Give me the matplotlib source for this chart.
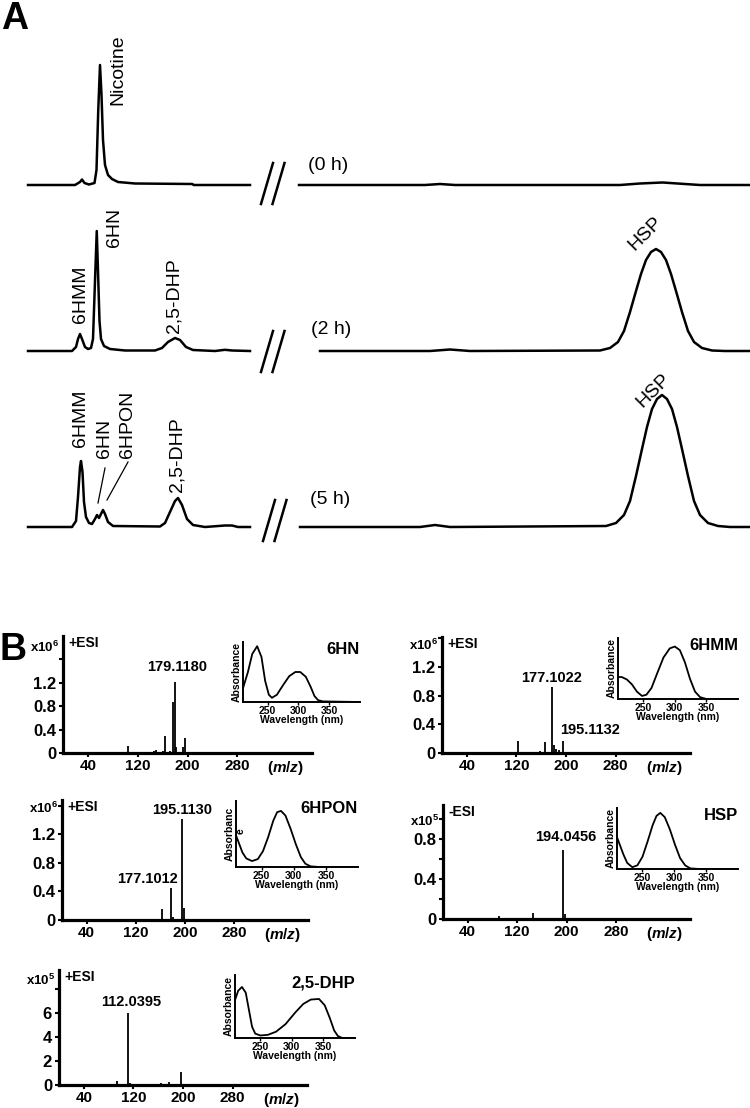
import numpy as np
import matplotlib
matplotlib.use('Agg')
import matplotlib.pyplot as plt
from matplotlib.lines import Line2D

plt.rcParams['font.family'] = ['Liberation Sans', 'DejaVu Sans']
plt.rcParams['mathtext.fontset'] = 'custom'
plt.rcParams['mathtext.rm'] = 'Liberation Sans:bold'
plt.rcParams['mathtext.it'] = 'Liberation Sans:italic:bold'
plt.rcParams['mathtext.bf'] = 'Liberation Sans:bold'

# ---- panel A: HPLC traces (retention time in min, signal), left / right of the break
t_0h_left = [1.12, 3.0, 3.2, 3.28, 3.38, 3.56, 3.78, 3.86, 3.93, 4.0, 4.06, 4.12, 4.2, 4.32, 4.48, 4.72, 5.4, 7.7, 7.74, 10.0]
s_0h_left = [0, 0, 3, 5.5, 2, 0.5, 2, 15, 75, 120, 90, 45, 20, 10, 6, 3, 1.5, 1, 0, 0]
t_0h_right = [11.96, 17.0, 17.6, 18.2, 24.8, 25.6, 26.5, 27.4, 28.0, 30.0]
s_0h_right = [0, 0, 1, 0, 0, 1.5, 2.5, 1, 0, 0]

t_2h_left = [1.12, 2.88, 3.04, 3.12, 3.2, 3.28, 3.4, 3.52, 3.64, 3.72, 3.8, 3.87, 3.92, 3.98, 4.04,
             4.16, 4.4, 5.0, 6.2, 6.48, 6.72, 7.0, 7.2, 7.44, 7.72, 8.6, 9.0, 9.28, 10.0]
s_2h_left = [0, 0, 4, 12, 17, 12, 4, 2, 3, 12, 70, 120, 80, 30, 12,
             5, 2, 0.5, 0.5, 3, 9, 13, 11, 4, 1, 0, 1.2, 0.5, 0]
t_2h_right = [12.8, 17.2, 18.0, 18.8, 24.0, 24.4, 24.72, 24.96, 25.2, 25.44, 25.64, 25.84, 26.04, 26.24,
              26.44, 26.64, 26.84, 27.04, 27.28, 27.52, 27.76, 28.08, 28.48, 29.0, 30.0]
s_2h_right = [0, 0, 1.5, 0, 0.5, 3, 9, 20, 39, 60, 77, 91, 99, 102,
              99, 91, 77, 60, 39, 20, 9, 3, 0.5, 0, 0]

t_5h_left = [1.12, 2.88, 3.04, 3.12, 3.2, 3.24, 3.3, 3.36, 3.44, 3.56, 3.68, 3.8, 3.88, 3.96, 4.04, 4.12,
             4.2, 4.32, 4.52, 6.4, 6.6, 6.8, 7.0, 7.12, 7.28, 7.48, 7.72, 8.2, 9.0, 9.28, 9.52, 10.0]
s_5h_left = [0, 0, 6, 30, 60, 66, 55, 25, 10, 4, 3, 8, 12, 9, 13, 17,
             13, 5, 1, 0.5, 4, 15, 26, 29, 22, 8, 2, 0, 1.5, 1.5, 0, 0]
t_5h_right = [12.0, 16.8, 17.4, 18.0, 24.24, 24.64, 24.96, 25.2, 25.44, 25.68, 25.88, 26.08, 26.28, 26.48,
              26.68, 26.88, 27.08, 27.28, 27.52, 27.76, 28.0, 28.32, 28.72, 29.2, 30.0]
s_5h_right = [0, 0, 2, 0, 1, 4, 12, 26, 51, 78, 100, 118, 128, 132,
              128, 118, 100, 78, 51, 26, 12, 4, 1, 0, 0]

# ---- panel B: mass spectra (m/z, intensity)
hn_mz = [105, 130, 134, 146, 150, 160, 164, 172, 177, 179.118, 181, 192, 196]
hn_int = [0.12, 0.01, 0.01, 0.03, 0.05, 0.03, 0.29, 0.03, 0.87, 1.21, 0.1, 0.1, 0.26]
hmm_mz = [122, 142, 147, 158, 166, 177.102, 181, 184, 189, 195.113, 206, 219]
hmm_int = [0.17, 0.01, 0.01, 0.03, 0.15, 0.92, 0.11, 0.06, 0.04, 0.17, 0.02, 0.01]
hpon_mz = [163, 177.101, 180, 195.113, 198]
hpon_int = [0.15, 0.45, 0.04, 1.42, 0.17]
hsp_mz = [90, 107, 146, 194.046, 197, 300]
hsp_int = [0.03, 0.015, 0.06, 0.69, 0.05, 0.01]
dhp_mz = [94, 112.040, 114, 165, 177, 196]
dhp_int = [0.3, 6.0, 0.2, 0.2, 0.25, 1.05]

# ---- UV spectra (wavelength nm, relative absorbance)
hn_wl = [210, 218, 225, 233, 240, 246, 252, 257, 265, 275, 285, 295, 303, 312, 320, 326, 332, 340, 400]
hn_ab = [0.23, 0.5, 0.8, 0.93, 0.75, 0.35, 0.12, 0.07, 0.12, 0.28, 0.43, 0.5, 0.5, 0.42, 0.25, 0.1, 0.03, 0.01, 0.0]
hmm_wl = [210, 216, 224, 232, 240, 248, 255, 263, 272, 282, 292, 300, 308, 316, 324, 332, 340, 350, 400]
hmm_ab = [0.36, 0.36, 0.32, 0.24, 0.12, 0.05, 0.07, 0.18, 0.42, 0.68, 0.83, 0.86, 0.8, 0.6, 0.33, 0.12, 0.03, 0.0, 0.0]
hpon_wl = [210, 215, 220, 226, 235, 244, 252, 260, 268, 274, 280, 287, 295, 303, 311, 318, 326, 340, 400]
hpon_ab = [0.48, 0.35, 0.22, 0.13, 0.09, 0.12, 0.24, 0.45, 0.7, 0.83, 0.85, 0.78, 0.58, 0.35, 0.15, 0.05, 0.01, 0.0, 0.0]
hsp_wl = [210, 215, 220, 226, 234, 242, 250, 258, 266, 272, 278, 285, 293, 301, 309, 317, 325, 340, 400]
hsp_ab = [0.52, 0.38, 0.24, 0.1, 0.03, 0.06, 0.2, 0.45, 0.72, 0.87, 0.92, 0.85, 0.65, 0.4, 0.18, 0.06, 0.01, 0.0, 0.0]
dhp_wl = [210, 215, 221, 227, 232, 237, 242, 250, 262, 275, 290, 305, 318, 330, 343, 352, 360, 367, 373, 380, 400]
dhp_ab = [0.6, 0.75, 0.81, 0.72, 0.45, 0.18, 0.07, 0.04, 0.05, 0.1, 0.22, 0.4, 0.54, 0.61, 0.62, 0.52, 0.32, 0.12, 0.03, 0.0, 0.0]

W, H = 750, 1108
fig = plt.figure(figsize=(W / 100, H / 100), dpi=100)


def frame(l, t, r, b):
    return fig.add_axes([l / W, 1 - b / H, (r - l) / W, (b - t) / H])


# ================= panel A =================
ax = frame(0, 0, 750, 545)
ax.set_xlim(0, 30)
ax.set_ylim(0, 545)
ax.axis('off')

traces = [(t_0h_left, s_0h_left, t_0h_right, s_0h_right, 360),
          (t_2h_left, s_2h_left, t_2h_right, s_2h_right, 194),
          (t_5h_left, s_5h_left, t_5h_right, s_5h_right, 18)]
for tl, sl, tr, sr, base in traces:
    ax.plot(tl, np.array(sl) + base, color='black', lw=1.8, solid_joinstyle='round')
    ax.plot(tr, np.array(sr) + base, color='black', lw=1.8, solid_joinstyle='round')


def brk(x0, yb, yt):
    for dx in (0, 11.5):
        fig.add_artist(Line2D([(x0 + dx) / W, (x0 + dx + 12) / W], [1 - yb / H, 1 - yt / H],
                              color='black', lw=1.8))


brk(261, 204, 163)
brk(261, 372, 331)
brk(263, 541, 500)

lab = dict(fontsize=14, rotation=90, ha='center', va='bottom')
ax.text(4.72, 440, 'Nicotine', **lab)
ax.text(4.6, 298, '6HN', **lab)
ax.text(3.2, 222, '6HMM', **lab)
ax.text(6.96, 212, '2,5-DHP', **lab)
ax.text(3.24, 98, '6HMM', **lab)
ax.text(4.2, 87, '6HN', **lab)
ax.text(5.1, 87, '6HPON', **lab)
ax.text(7.08, 53, '2,5-DHP', **lab)
ax.plot([4.2, 3.92], [77, 42], color='black', lw=0.9)
ax.plot([5.12, 4.28], [83, 45], color='black', lw=0.9)
ax.text(25.8, 311, 'HSP', fontsize=14, rotation=45, ha='center', va='center', rotation_mode='anchor')
ax.text(26.12, 154, 'HSP', fontsize=14, rotation=45, ha='center', va='center', rotation_mode='anchor')
ax.text(13.12, 379, '(0 h)', fontsize=14, ha='center', va='center')
ax.text(13.24, 215, '(2 h)', fontsize=14, ha='center', va='center')
ax.text(13.2, 45, '(5 h)', fontsize=14, ha='center', va='center')

fig.text(1 / W, 1 - 1 / H, 'A', fontsize=27, fontweight='bold', ha='left', va='top')
fig.text(0 / W, 1 - 632 / H, 'B', fontsize=27, fontweight='bold', ha='left', va='top')


# ================= panel B =================
def ms_panel(box, mz, inten, ymax, yticks, ylabels, exp, mode, peaks, ibox, wl, ab, name,
             minor=None, exp_y=0.9, ylab='Absorbance'):
    a = frame(*box)
    a.vlines(mz, 0, inten, color='black', lw=1.3)
    a.set_xlim(0, 400)
    a.set_ylim(0, ymax)
    a.set_xticks([40, 120, 200, 280])
    a.set_xticklabels(['40', '120', '200', '280'], fontsize=11, fontweight='bold')
    a.set_yticks(yticks)
    a.set_yticklabels(ylabels, fontsize=12, fontweight='bold')
    if minor:
        a.set_yticks(minor, minor=True)
        a.tick_params(axis='y', which='minor', length=3, width=1.5)
    for s in ('top', 'right'):
        a.spines[s].set_visible(False)
    for s in ('left', 'bottom'):
        a.spines[s].set_linewidth(2.3)
    a.tick_params(length=3, width=1.5)
    a.tick_params(axis='x', pad=1.5)
    a.tick_params(axis='y', pad=2)
    a.annotate('x10$^{%d}$' % exp, xy=(0, exp_y), xycoords='axes fraction', xytext=(-3, 0),
               textcoords='offset points', ha='right', va='center', fontsize=9.5, fontweight='bold')
    a.annotate(mode, xy=(0, 1), xycoords='axes fraction', xytext=(4, 0),
               textcoords='offset points', ha='left', va='top', fontsize=10, fontweight='bold')
    a.annotate('($m/z$)', xy=(358, 0), xycoords=('data', 'axes fraction'), xytext=(0, -4.5),
               textcoords='offset points', ha='center', va='top', fontsize=11, fontweight='bold')
    for text, x, y, dx, dy, ha in peaks:
        a.annotate(text, xy=(x, y), xytext=(dx, dy), textcoords='offset points',
                   ha=ha, va='bottom', fontsize=10.5, fontweight='bold')

    b = frame(*ibox)
    b.plot(wl, ab, color='black', lw=1.3)
    b.set_xlim(210, 400)
    b.set_ylim(0, 1)
    b.set_yticks([])
    b.set_xticks([250, 300, 350])
    b.set_xticklabels(['250', '300', '350'], fontsize=7.5, fontweight='bold')
    b.tick_params(length=2, width=1, pad=1)
    for s in ('top', 'right'):
        b.spines[s].set_visible(False)
    for s in ('left', 'bottom'):
        b.spines[s].set_linewidth(1.4)
    b.set_xlabel('Wavelength (nm)', fontsize=7.5, fontweight='bold', labelpad=-1)
    b.set_ylabel(ylab, fontsize=7.5, fontweight='bold', labelpad=1)
    b.text(1.0, 1.0, name, transform=b.transAxes, ha='right', va='top', fontsize=12, fontweight='bold')
    return a, b


yt6 = [0, 0.4, 0.8, 1.2, 1.6]
yl6 = ['0', '0.4', '0.8', '1.2', '']

ms_panel((63, 636, 312, 753), hn_mz, hn_int, 2.0, yt6, yl6, 6, '+ESI',
         [('179.1180', 179.118, 1.21, 2, 6, 'center')],
         (243, 642, 360, 702), hn_wl, hn_ab, '6HN')

ms_panel((442, 637, 690, 753), hmm_mz, hmm_int, 1.62, yt6, yl6, 6, '+ESI',
         [('177.1022', 177.102, 0.92, 0, 1.5, 'center'),
          ('195.1132', 195.113, 0.17, -2, 3, 'left')],
         (618, 638, 738, 699), hmm_wl, hmm_ab, '6HMM', exp_y=0.93)

_, inset3 = ms_panel((62, 800, 308, 920), hpon_mz, hpon_int, 1.68, yt6, yl6, 6, '+ESI',
                     [('195.1130', 195.113, 1.42, 0, 1, 'center'),
                      ('177.1012', 177.101, 0.45, 5, 1, 'right')],
                     (236, 801, 358, 867), hpon_wl, hpon_ab, '6HPON', exp_y=0.93, ylab='Absorbanc')
inset3.text(0.04, 0.55, 'e', transform=inset3.transAxes, rotation=90, ha='center', va='center',
            fontsize=7.5, fontweight='bold')

ms_panel((443, 805, 690, 919), hsp_mz, hsp_int, 1.14, [0, 0.4, 0.8], ['0', '0.4', '0.8'], 5, '-ESI',
         [('194.0456', 194.046, 0.69, 2, 4, 'center')],
         (617, 808, 738, 869), hsp_wl, hsp_ab, 'HSP', minor=[0.2, 0.6, 1.0], exp_y=0.86)

ms_panel((59, 970, 307, 1085), dhp_mz, dhp_int, 9.6, [0, 2, 4, 6, 8], ['0', '2', '4', '6', ''], 5, '+ESI',
         [('112.0395', 112.040, 6.0, 2, 3, 'center')],
         (235, 975, 355, 1038), dhp_wl, dhp_ab, '2,5-DHP', exp_y=0.91)

fig.savefig('out.png', dpi=100)
